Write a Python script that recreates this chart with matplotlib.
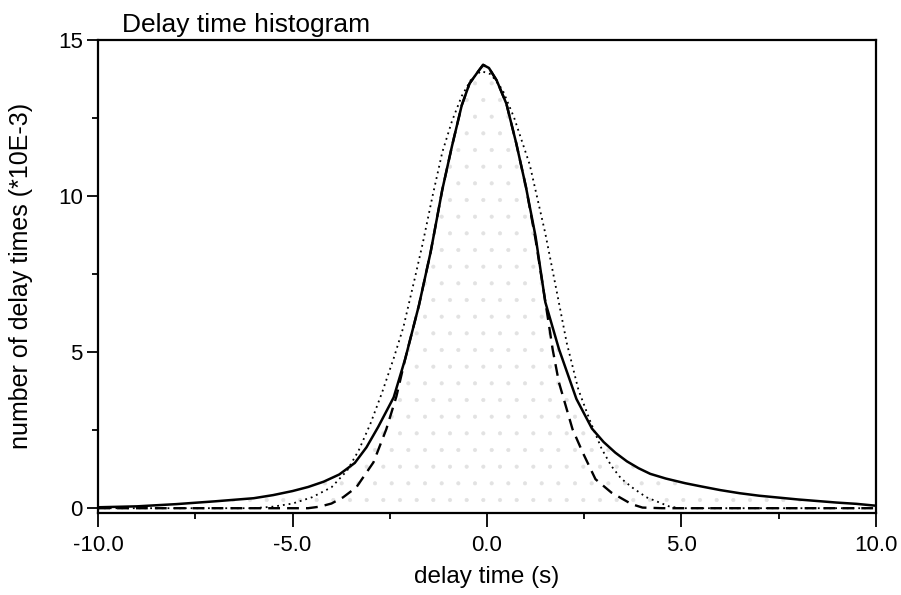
import matplotlib
matplotlib.use("Agg")
import matplotlib.pyplot as plt
from matplotlib.ticker import MultipleLocator, FormatStrFormatter

plt.rcParams["font.family"] = ["Liberation Sans", "DejaVu Sans"]
plt.rcParams["hatch.linewidth"] = 0.5

hist_x = [-10, -9, -8, -7, -6, -5.5, -5, -4.6, -4.2, -3.8, -3.4, -3.1, -2.8, -2.4,
          -2.1, -1.75, -1.45, -1.15, -0.9, -0.65, -0.45, -0.25, -0.1, 0.05, 0.25,
          0.5, 0.75, 1.0, 1.25, 1.5, 1.85, 2.3, 2.7, 3.0, 3.3, 3.6, 3.9, 4.2, 4.6,
          5.1, 5.5, 6, 6.5, 7, 7.5, 8, 8.5, 9, 9.5, 10]
hist_y = [0.03, 0.06, 0.13, 0.22, 0.32, 0.42, 0.55, 0.68, 0.85, 1.08, 1.45, 1.95,
          2.6, 3.55, 4.8, 6.5, 8.2, 10.2, 11.6, 12.9, 13.6, 13.95, 14.2, 14.1,
          13.7, 12.95, 11.7, 10.3, 8.7, 6.6, 5.1, 3.5, 2.55, 2.12, 1.78, 1.5, 1.28,
          1.1, 0.95, 0.8, 0.7, 0.58, 0.48, 0.4, 0.34, 0.28, 0.23, 0.18, 0.14, 0.08]

# narrow fit (dashed)
fit1_x = [-10, -4.6, -4.3, -4.0, -3.7, -3.36, -2.92, -2.59, -2.33, -2.1, -1.75,
          -1.45, -1.15, -0.9, -0.65, -0.45, -0.25, -0.1, 0.05, 0.25, 0.5, 0.75,
          1.0, 1.25, 1.56, 1.69, 1.85, 2.03, 2.2, 2.46, 2.79, 3.2, 3.72, 4.0,
          4.5, 10]
fit1_y = [0, 0, 0.05, 0.15, 0.35, 0.67, 1.47, 2.53, 3.58, 4.8, 6.5, 8.2, 10.2,
          11.6, 12.9, 13.6, 13.95, 14.2, 14.1, 13.7, 12.95, 11.7, 10.3, 8.6,
          6.14, 5.08, 4.03, 3.26, 2.53, 1.79, 0.93, 0.5, 0.13, 0.02, 0, 0]

# wide fit (dotted)
fit2_x = [-10, -6, -5.5, -5, -4.5, -4, -3.6, -3.3, -3.0, -2.7, -2.4, -2.15, -1.85,
          -1.65, -1.4, -1.15, -0.9, -0.65, -0.4, -0.15, 0.1, 0.4, 0.7, 1.1, 1.5,
          1.8, 2.05, 2.35, 2.65, 2.95, 3.2, 3.45, 3.75, 4.1, 4.4, 4.7, 5.0, 10]
fit2_y = [0, 0, 0.05, 0.15, 0.35, 0.67, 1.2, 1.85, 2.7, 3.7, 4.8, 5.8, 7.4, 8.5,
          10.0, 11.4, 12.4, 13.2, 13.75, 14.0, 13.9, 13.4, 12.5, 11.0, 8.8, 6.9,
          5.3, 3.8, 2.8, 1.9, 1.35, 0.95, 0.65, 0.35, 0.2, 0.05, 0, 0]

fig = plt.figure(figsize=(9.01, 5.95), dpi=100)
ax = fig.add_axes([0.109, 0.138, 0.863, 0.795])

# faint stipple under the histogram
ax.fill_between(hist_x, 0, hist_y, facecolor="none", edgecolor="#e2e2e2",
                hatch=".", linewidth=0)

ax.plot(fit1_x, fit1_y, color="black", lw=1.7, dashes=(5, 3))
ax.plot(fit2_x, fit2_y, color="black", lw=1.3, dashes=(1, 2.2))
ax.plot(hist_x, hist_y, color="black", lw=1.8)

ax.set_xlim(-10, 10)
ax.set_ylim(-0.15, 15)
ax.xaxis.set_major_locator(MultipleLocator(5))
ax.xaxis.set_minor_locator(MultipleLocator(2.5))
ax.yaxis.set_major_locator(MultipleLocator(5))
ax.yaxis.set_minor_locator(MultipleLocator(2.5))
ax.xaxis.set_major_formatter(FormatStrFormatter("%.1f"))
ax.tick_params(which="major", direction="out", length=10, width=1.3, labelsize=16, pad=6)
ax.tick_params(which="minor", direction="out", length=4.5, width=1.3)
ax.tick_params(axis="y", which="major", length=8, pad=3)
for s in ax.spines.values():
    s.set_linewidth(1.6)

ax.set_xlabel("delay time (s)", fontsize=17.5, labelpad=7)
ax.set_ylabel("number of delay times (*10E-3)", fontsize=18, labelpad=18)
ax.text(0.03, 1.005, "Delay time histogram", transform=ax.transAxes,
        fontsize=19, ha="left", va="bottom")

fig.savefig("out.png", dpi=100)
